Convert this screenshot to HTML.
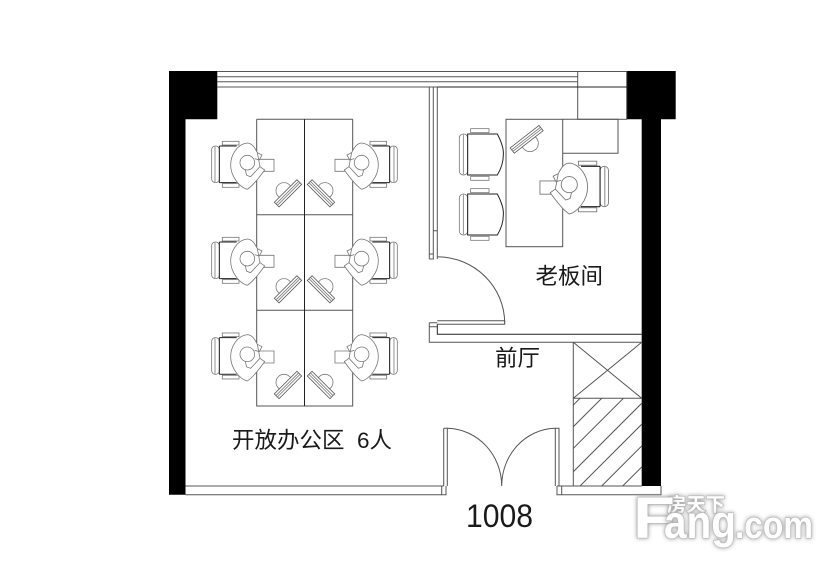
<!DOCTYPE html>
<html lang="zh">
<head>
<meta charset="utf-8">
<style>
html,body{margin:0;padding:0;background:#fff;width:830px;height:565px;overflow:hidden}
svg{display:block}
.l{fill:none;stroke:#555;stroke-width:1}
.d{fill:none;stroke:#222;stroke-width:1}
.m{fill:none;stroke:#777;stroke-width:2.4}
.k{fill:none;stroke:#222;stroke-width:3}
.t{font-family:"Liberation Sans","Noto Sans CJK SC",sans-serif;fill:#1a1a1a}
.wm{font-family:"Liberation Sans","Noto Sans CJK SC",sans-serif;font-weight:bold;fill:#fff;stroke:#b8b8b8;stroke-width:1.2;paint-order:stroke;filter:drop-shadow(0 0 2px #999)}
</style>
</head>
<body>
<svg width="830" height="565" viewBox="0 0 830 565" xmlns="http://www.w3.org/2000/svg">
<defs>
  <clipPath id="hc"><rect x="573.3" y="398.3" width="68.4" height="87.7"/></clipPath>
  <!-- seated person, in 3x coords relative to (160,60) -->
  <g id="p">
    <rect class="m" x="187" y="244" width="50" height="11"/>
    <rect class="m" x="187" y="371" width="50" height="11"/>
    <rect class="m" x="155" y="258" width="23" height="110" rx="11"/>
    <path class="m" d="M165 260V366"/>
    <path class="k" d="M178 258H230M178 368H230M178 258V368"/>
    <path class="m" d="M296 298H342V334H296"/>
    <path d="M262 249C232 252 212 285 212 315C212 350 240 383 262 388C278 378 296 355 314 330L300 320L292 278C285 265 278 250 262 249Z" fill="#fff" stroke="#777" stroke-width="2.4"/>
    <path class="m" d="M292 278L306 285L298 300L284 296M300 320L272 350L260 346L256 330"/>
    <circle cx="262" cy="308" r="22" fill="#fff" stroke="#777" stroke-width="2.4"/>
  </g>
  <!-- monitor -->
  <g id="mon">
    <circle class="m" cx="372" cy="392" r="24"/>
    <g transform="rotate(-45 384 400)">
      <rect x="336" y="390" width="96" height="20" fill="#fff" stroke="#555" stroke-width="2.4"/>
      <path class="m" d="M336 397H432M336 403H432"/>
    </g>
  </g>
  <g id="st"><use href="#p"/><use href="#mon"/></g>
  <!-- visitor chair in 3x coords relative to (420,60) -->
  <g id="c">
    <rect class="m" x="152" y="206" width="55" height="12"/>
    <rect class="m" x="152" y="349" width="55" height="12"/>
    <rect class="m" x="118" y="222" width="25" height="123" rx="12"/>
    <path class="m" d="M130 224V343"/>
    <path class="k" d="M143 222H232C244 245 252 265 250 285C250 305 244 325 232 345H143Z"/>
  </g>
</defs>

<!-- walls -->
<path fill="#000" d="M169 71H217.3V119.3H185.5V494.7H169Z"/>
<path fill="#000" d="M626.7 71H675.7V119.3H661V486H641.7V119.3H626.7Z"/>

<!-- window -->
<path class="l" d="M217 71.5H627M217 76.7H578M217 81.7H578M217 87H627"/>
<rect class="l" x="577.7" y="71.5" width="49" height="47.8"/>

<!-- desks -->
<path class="l" d="M256.7 119.3H352.7M256.7 119.3V406H352.7V119.3M256.7 214.7H352.7M256.7 310.3H352.7"/>
<path class="d" d="M304.5 119.3V406"/>

<!-- workstations -->
<g transform="translate(160,60) scale(.3333)">
  <use href="#st"/>
  <use href="#st" y="288"/>
  <use href="#st" y="575"/>
  <g transform="translate(867,0) scale(-1,1)">
    <use href="#st"/>
    <use href="#st" y="288"/>
    <use href="#st" y="575"/>
  </g>
</g>

<!-- boss room -->
<rect class="l" x="506" y="119.3" width="56.7" height="127.4"/>
<path class="l" d="M562.7 119.3H618V153.3H562.7"/>
<g transform="translate(420,60) scale(.3333)">
  <use href="#c"/>
  <use href="#c" y="180"/>
  <circle class="m" cx="330" cy="250" r="25"/>
  <g transform="rotate(-38 320 238)">
    <rect x="265" y="228" width="110" height="20" fill="#fff" stroke="#555" stroke-width="2.4"/>
    <path class="m" d="M265 235H375M265 241H375"/>
  </g>
</g>
<g transform="translate(569.3,184.7) scale(1.1) translate(-361.7,-162.7) translate(160,60) translate(289,0) scale(-.3333,.3333)">
  <use href="#p"/>
</g>

<!-- partition -->
<path class="l" d="M429.3 87V259M433.3 87V254M437.3 87V259M429.3 254H433.3V259H429.3M433.3 230.7H437.3"/>
<path class="d" d="M437.3 87H627"/>
<!-- boss door -->
<path class="l" d="M437.3 256.7C475 257 504.7 287 504.7 323.3"/>
<path class="l" d="M437.3 320.7H504.7V324.3H437.3"/>
<path class="l" d="M429.3 322.7H437.3M429.3 326.7H437.3M429.3 322.7V342.3H641.7"/>
<path class="d" d="M437.3 324.3V334.3H641.7"/>

<!-- shaft -->
<path class="l" d="M573.3 342.3V486M573.3 398.3H641.7M573.3 342.3L641.7 398.3M573.3 398.3L641.7 342.3"/>
<g clip-path="url(#hc)">
  <path class="l" d="M478.3 500L978.3 0M500 500L1000 0M521.7 500L1021.7 0M545 500L1045 0M566 500L1066 0M587.7 500L1087.7 0M608.7 500L1108.7 0"/>
</g>

<!-- bottom wall -->
<path class="l" d="M185.5 486H443.7M185.5 494.7H446V486M441.7 486V494.7H446"/>
<path class="l" d="M557 486V494.7H661V486M561.7 486V494.7M557 486H641.7"/>
<!-- entry door -->
<path class="l" d="M443.7 428.3H447.3V486M443.7 428.3V486M555.3 486V428.3H559V486"/>
<path class="l" d="M447.3 428.3C478 429 501.7 455 501.7 486M555.3 428.3C525 429 501.7 455 501.7 486"/>

<!-- labels -->
<text class="t" x="535.5" y="284" font-size="22.5">老板间</text>
<text class="t" x="495" y="366" font-size="22.5">前厅</text>
<text class="t" x="232" y="448" font-size="22.5" xml:space="preserve">开放办公区  6人</text>
<text class="t" x="466" y="527" font-size="32" textLength="67" lengthAdjust="spacingAndGlyphs">1008</text>

<!-- watermark -->
<text class="wm" x="667" y="511" font-size="19" textLength="58" lengthAdjust="spacingAndGlyphs">房天下</text>
<text class="wm" x="633" y="538" font-size="58" textLength="42" lengthAdjust="spacingAndGlyphs">F</text>
<text class="wm" x="664" y="538" font-size="46" textLength="72" lengthAdjust="spacingAndGlyphs">ang</text>
<text class="wm" x="735" y="538" font-size="38" textLength="78" lengthAdjust="spacingAndGlyphs">.com</text>
</svg>
</body>
</html>
